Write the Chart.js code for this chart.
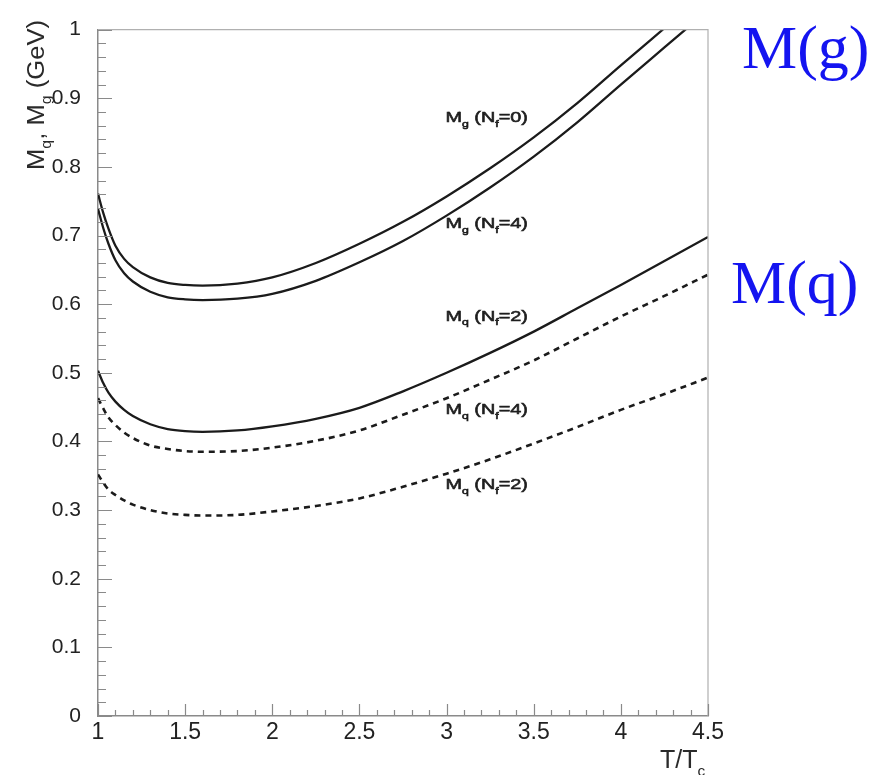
<!DOCTYPE html>
<html>
<head>
<meta charset="utf-8">
<title>Thermal masses vs T/Tc</title>
<script src="https://cdn.jsdelivr.net/npm/chart.js@4.4.1/dist/chart.umd.min.js"></script>
<style>
    html, body { margin: 0; padding: 0; background: #fff; }
    #wrap { position: relative; width: 891px; height: 775px; }
</style>
</head>
<body>
<div id="wrap"><canvas id="massChart"></canvas></div>
<script>
// T/Tc sample points
const temps = [1.0, 1.03, 1.06, 1.1, 1.15, 1.2, 1.3, 1.4, 1.5, 1.6, 1.8, 2.0, 2.25, 2.5, 2.75, 3.0, 3.25, 3.5, 3.75, 4.0, 4.25, 4.5];

// masses in GeV
const mgNf0 = [0.761, 0.733, 0.710, 0.685, 0.666, 0.654, 0.639, 0.631, 0.628, 0.627, 0.630, 0.639, 0.660, 0.688, 0.720, 0.757, 0.798, 0.843, 0.893, 0.948, 1.002, 1.056];
const mgNf4 = [0.739, 0.711, 0.688, 0.664, 0.645, 0.633, 0.618, 0.610, 0.607, 0.606, 0.608, 0.615, 0.634, 0.661, 0.692, 0.729, 0.770, 0.815, 0.865, 0.920, 0.974, 1.028];
const mqNf2Solid = [0.503, 0.485, 0.471, 0.458, 0.446, 0.437, 0.425, 0.418, 0.415, 0.414, 0.416, 0.422, 0.433, 0.449, 0.473, 0.500, 0.529, 0.560, 0.594, 0.628, 0.663, 0.698];
const mqNf4 = [0.463, 0.448, 0.435, 0.424, 0.413, 0.405, 0.394, 0.389, 0.386, 0.385, 0.386, 0.391, 0.401, 0.416, 0.439, 0.463, 0.490, 0.518, 0.550, 0.582, 0.612, 0.643];
const mqNf2 = [0.352, 0.340, 0.330, 0.322, 0.314, 0.308, 0.300, 0.295, 0.293, 0.292, 0.293, 0.298, 0.306, 0.317, 0.334, 0.353, 0.374, 0.397, 0.421, 0.446, 0.469, 0.493];

// curve labels: [text, subscript?] pieces
const curveLabels = [
    [['M', 0], ['g', 1], [' (N', 0], ['f', 1], ['=0)', 0]],
    [['M', 0], ['g', 1], [' (N', 0], ['f', 1], ['=4)', 0]],
    [['M', 0], ['q', 1], [' (N', 0], ['f', 1], ['=2)', 0]],
    [['M', 0], ['q', 1], [' (N', 0], ['f', 1], ['=4)', 0]],
    [['M', 0], ['q', 1], [' (N', 0], ['f', 1], ['=2)', 0]]
];
// where each label sits (T/Tc, GeV at baseline)
const labelSpots = [[3.23, 0.865], [3.23, 0.711], [3.23, 0.576], [3.23, 0.440], [3.23, 0.330]];

const yTitle = [['M', 0], ['q', 1], [', M', 0], ['g', 1], [' (GeV)', 0]];
const xTitle = [['T/T', 0], ['c', 1]];

function toPoints(ys) {
    return temps.map((t, i) => ({ x: t, y: ys[i] }));
}

function richWidth(ctx, parts, size, family) {
    let w = 0;
    parts.forEach(function(p) {
        ctx.font = (p[1] ? size * 0.62 : size) + 'px ' + family;
        w += ctx.measureText(p[0]).width;
    });
    return w;
}

function drawRich(ctx, parts, size, family, thicken) {
    let cx = 0;
    parts.forEach(function(p) {
        ctx.font = (p[1] ? size * 0.62 : size) + 'px ' + family;
        const yy = p[1] ? size * 0.3 : 0;
        ctx.fillText(p[0], cx, yy);
        if (thicken) ctx.strokeText(p[0], cx, yy);
        cx += ctx.measureText(p[0]).width;
    });
}

// inward ticks, frame, labels and side notes
const decorPlugin = {
    id: 'decor',
    afterDraw(chart) {
        const ctx = chart.ctx;
        const area = chart.chartArea;
        const xs = chart.scales.x, ys = chart.scales.y;

        ctx.save();
        // frame top / right
        ctx.strokeStyle = '#b0b0b0';
        ctx.lineWidth = 1.2;
        ctx.beginPath();
        ctx.moveTo(area.left, area.top);
        ctx.lineTo(area.right, area.top);
        ctx.lineTo(area.right, area.bottom);
        ctx.stroke();

        // ticks pointing into the plot
        ctx.strokeStyle = '#8a8a8a';
        ctx.lineWidth = 1.2;
        ctx.beginPath();
        for (let i = 0; i <= 50; i++) {
            const py = Math.round(ys.getPixelForValue(i * 0.02)) + 0.5;
            const len = (i % 5 === 0) ? 14 : 8;
            ctx.moveTo(area.left, py);
            ctx.lineTo(area.left + len, py);
        }
        for (let i = 0; i <= 35; i++) {
            const px = Math.round(xs.getPixelForValue(1 + i * 0.1)) + 0.5;
            const len = (i % 5 === 0) ? 12 : 6;
            ctx.moveTo(px, area.bottom);
            ctx.lineTo(px, area.bottom - len);
        }
        ctx.stroke();

        // curve labels
        ctx.fillStyle = '#1e1e1e';
        ctx.strokeStyle = '#1e1e1e';
        ctx.lineWidth = 0.6;
        ctx.textBaseline = 'alphabetic';
        ctx.textAlign = 'left';
        curveLabels.forEach(function(parts, i) {
            const px = xs.getPixelForValue(labelSpots[i][0]);
            const py = ys.getPixelForValue(labelSpots[i][1]);
            const sx = 1.28;
            const w = richWidth(ctx, parts, 15.5, '"Liberation Sans"') * sx;
            ctx.save();
            ctx.translate(px - w / 2, py);
            ctx.scale(sx, 1);
            drawRich(ctx, parts, 15.5, '"Liberation Sans"', true);
            ctx.restore();
        });

        // y axis title, rotated, sitting at the top
        ctx.fillStyle = '#2a2a2a';
        const tw = richWidth(ctx, yTitle, 23, '"Liberation Sans"');
        ctx.save();
        ctx.translate(44, 170);
        ctx.rotate(-Math.PI / 2);
        ctx.scale(150 / tw, 1);
        drawRich(ctx, yTitle, 23, '"Liberation Sans"', false);
        ctx.restore();

        // x axis title
        ctx.save();
        ctx.translate(660, 768);
        drawRich(ctx, xTitle, 25, '"Liberation Sans"', false);
        ctx.restore();

        // blue notes on the right
        ctx.fillStyle = '#1414f0';
        ctx.font = '62px "Liberation Serif"';
        ctx.fillText('M(g)', 742, 68);
        ctx.fillText('M(q)', 731, 303);
        ctx.restore();
    }
};

function plainNumber(value) {
    return String(Number(value.toFixed(2)));
}

document.addEventListener('DOMContentLoaded', function() {
    const massCtx = document.getElementById('massChart').getContext('2d');
    const solid = { borderColor: '#1b1b1b', borderWidth: 2.3, pointRadius: 0, cubicInterpolationMode: 'monotone', fill: false };
    const dashed = { borderColor: '#1b1b1b', borderWidth: 2.6, pointRadius: 0, cubicInterpolationMode: 'monotone', fill: false, borderDash: [6, 5] };

    const massChart = new Chart(massCtx, {
        type: 'line',
        data: {
            datasets: [
                Object.assign({ label: 'Mg (Nf=0)', data: toPoints(mgNf0) }, solid),
                Object.assign({ label: 'Mg (Nf=4)', data: toPoints(mgNf4) }, solid),
                Object.assign({ label: 'Mq (Nf=2)', data: toPoints(mqNf2Solid) }, solid),
                Object.assign({ label: 'Mq (Nf=4)', data: toPoints(mqNf4) }, dashed),
                Object.assign({ label: 'Mq (Nf=2) dashed', data: toPoints(mqNf2) }, dashed)
            ]
        },
        options: {
            responsive: true,
            maintainAspectRatio: false,
            animation: false,
            layout: {
                padding: { top: 18, right: 183, left: 0, bottom: 0 }
            },
            plugins: {
                legend: { display: false },
                tooltip: { enabled: false }
            },
            scales: {
                x: {
                    type: 'linear',
                    min: 1,
                    max: 4.5,
                    ticks: {
                        stepSize: 0.5,
                        padding: 3,
                        maxRotation: 0,
                        color: '#222',
                        font: { family: 'Liberation Sans', size: 23 },
                        callback: plainNumber
                    },
                    grid: { display: false, drawTicks: false },
                    border: { display: true, color: '#8a8a8a', width: 1.5 },
                    afterFit: function(scale) { scale.height = 59; }
                },
                y: {
                    min: 0,
                    max: 1,
                    ticks: {
                        stepSize: 0.1,
                        padding: 17,
                        color: '#222',
                        font: { family: 'Liberation Sans', size: 21 },
                        callback: plainNumber
                    },
                    grid: { display: false, drawTicks: false },
                    border: { display: true, color: '#8a8a8a', width: 1.5 },
                    afterFit: function(scale) { scale.width = 98; }
                }
            }
        },
        plugins: [decorPlugin]
    });
});
</script>
</body>
</html>
